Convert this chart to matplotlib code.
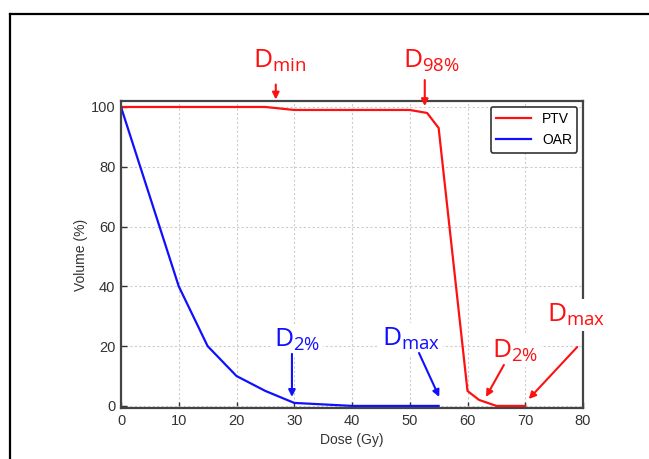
import matplotlib
matplotlib.use("Agg")
import matplotlib.pyplot as plt
from matplotlib.lines import Line2D

plt.rcParams['font.family'] = ['Liberation Sans', 'DejaVu Sans']
plt.rcParams['mathtext.fontset'] = 'custom'
plt.rcParams['mathtext.rm'] = 'Open Sans'
plt.rcParams['mathtext.it'] = 'Open Sans'

ptv_dose = [0, 25, 30, 50, 53, 55, 60, 62, 65, 70]
ptv_vol = [100, 100, 99, 99, 98, 93, 5, 2, 0, 0]
oar_dose = [0, 5, 10, 15, 20, 25, 30, 40, 50, 55]
oar_vol = [100, 70, 40, 20, 10, 5, 1, 0, 0, 0]

RED = '#ff1010'
BLUE = '#1010ff'

fig = plt.figure(figsize=(6.49, 4.59), dpi=100)
ax = fig.add_axes([121/649, 1-408/459, (583-121)/649, (408-101)/459])

ax.plot(ptv_dose, ptv_vol, color=RED, lw=1.6, label='PTV')
ax.plot(oar_dose, oar_vol, color=BLUE, lw=1.6, label='OAR')

ax.set_xlim(0, 80)
ax.set_ylim(-0.7, 102)
ax.set_xticks([0, 10, 20, 30, 40, 50, 60, 70, 80])
ax.set_yticks([0, 20, 40, 60, 80, 100])
ax.grid(True, ls=(0, (2, 2)), color='#cccccc', lw=0.8)
ax.tick_params(direction='in', length=4, width=1, colors='#333333', labelsize=10.5, pad=4)
for s in ax.spines.values():
    s.set_color('#444444')
    s.set_linewidth(1.6)
ax.set_xlabel('Dose (Gy)', fontsize=10, color='#333333')
ax.set_ylabel('Volume (%)', fontsize=10, color='#333333', labelpad=2)

leg = ax.legend(loc='upper right', fontsize=10, frameon=True, fancybox=True,
                edgecolor='#333333', framealpha=1, handlelength=2.5,
                borderaxespad=0.4)
leg.get_frame().set_linewidth(1.2)

tkw = dict(fontsize=19, ha='center', va='center',
           bbox=dict(facecolor='white', edgecolor='none', pad=2))
akw = dict(arrowstyle='-|>', lw=1.5, mutation_scale=10, shrinkA=0, shrinkB=0)

def label(txt, tx, ty, start, tip, color):
    ax.text(tx, ty, txt, color=color, clip_on=False, **tkw)
    ax.annotate('', xy=tip, xytext=start, annotation_clip=False,
                arrowprops=dict(color=color, **akw))

label(r'$\mathrm{D}_{\mathrm{min}}$', 27.5, 115.5, (26.8, 107.5), (26.8, 102.5), RED)
label(r'$\mathrm{D}_{98\%}$', 53.8, 115.5, (52.6, 109), (52.6, 100.3), RED)
label(r'$\mathrm{D}_{2\%}$', 30.5, 22, (29.6, 17.4), (29.6, 3), BLUE)
label(r'$\mathrm{D}_{\mathrm{max}}$', 50.2, 22.5, (51.6, 17.7), (55.1, 3), BLUE)
label(r'$\mathrm{D}_{2\%}$', 68.3, 18.5, (66.3, 13.7), (63.2, 3), RED)
label(r'$\mathrm{D}_{\mathrm{max}}$', 78.8, 30.5, (79.0, 19.7), (70.6, 2.3), RED)

fig.add_artist(Line2D([10/649, 1.0], [1-14/459, 1-14/459], color='black', lw=1.6,
                      transform=fig.transFigure))
fig.add_artist(Line2D([10/649, 10/649], [0, 1-14/459], color='black', lw=1.6,
                      transform=fig.transFigure))

fig.savefig('out.png', dpi=100)
